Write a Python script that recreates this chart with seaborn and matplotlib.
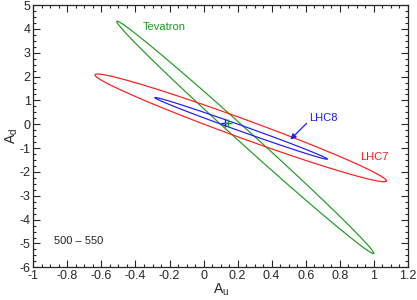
import numpy as np
import pandas as pd
import seaborn as sns
import matplotlib.pyplot as plt
from matplotlib.ticker import MultipleLocator

# ellipse data: centre, right-hand tip and half vertical chord at the centre
names = ["Tevatron", "LHC7", "LHC8"]
centre_x = [0.245, 0.218, 0.220]
centre_y = [-0.55, -0.15, -0.17]
tip_x = [1.00, 1.074, 0.726]
tip_y = [-5.41, -2.37, -1.457]
half_height = [0.39, 0.42, 0.13]
colors = {"Tevatron": "#1f991f", "LHC7": "#ff1a1a", "LHC8": "#1a1aff"}

# best-fit points
best_x = [0.126, 0.146]
best_y = [0.05, 0.06]
best_col = ["#1a1aff", "#1f991f"]

sns.set_style("ticks")
plt.rcParams["font.family"] = ["Liberation Sans", "DejaVu Sans"]
plt.rcParams["axes.unicode_minus"] = False

rows = []
t = np.linspace(0, 2 * np.pi, 400)
for i, n in enumerate(names):
    ax_ = tip_x[i] - centre_x[i]
    ay_ = tip_y[i] - centre_y[i]
    xs = centre_x[i] + ax_ * np.cos(t)
    ys = centre_y[i] + ay_ * np.cos(t) + half_height[i] * np.sin(t)
    rows.append(pd.DataFrame({"Au": xs, "Ad": ys, "set": n, "k": np.arange(len(t))}))
df = pd.concat(rows, ignore_index=True)

fig = plt.figure(figsize=(4.17, 3.0), dpi=100)
ax = fig.add_axes([0.08, 0.109, 0.898, 0.874])

for n in names:
    sns.lineplot(data=df[df["set"] == n], x="Au", y="Ad", sort=False, estimator=None,
                 color=colors[n], lw=0.85, ax=ax)

for x, y, c in zip(best_x, best_y, best_col):
    ax.plot(x, y, marker="+", color=c, ms=6, mew=1.0)

ax.text(-0.355, 4.09, "Tevatron", color=colors["Tevatron"], fontsize=8, va="center")
ax.text(0.92, -1.36, "LHC7", color=colors["LHC7"], fontsize=8, va="center")
ax.text(0.62, 0.26, "LHC8", color=colors["LHC8"], fontsize=8, va="center")
ax.annotate("", xy=(0.51, -0.64), xytext=(0.605, 0.04),
            arrowprops=dict(arrowstyle="-|>", color=colors["LHC8"], lw=0.9,
                            mutation_scale=8, shrinkA=0, shrinkB=0))
ax.text(-0.878, -4.88, "500 \u2013 550", fontsize=8, va="center")

ax.set_xlim(-1, 1.2)
ax.set_ylim(-6, 5)
ax.xaxis.set_major_locator(MultipleLocator(0.2))
ax.xaxis.set_minor_locator(MultipleLocator(0.05))
ax.yaxis.set_major_locator(MultipleLocator(1))
ax.yaxis.set_minor_locator(MultipleLocator(0.25))
ax.set_xticks(np.arange(-1, 1.21, 0.2))
ax.set_xticklabels(["-1", "-0.8", "-0.6", "-0.4", "-0.2", "0", "0.2", "0.4", "0.6", "0.8", "1", "1.2"])
ax.tick_params(which="both", direction="in", top=True, right=True, labelsize=9, width=0.8, pad=2)
ax.tick_params(which="major", length=5)
ax.tick_params(which="minor", length=2.5)
for s in ax.spines.values():
    s.set_linewidth(0.9)
ax.set_xlabel("A$_\\mathregular{u}$", fontsize=10, labelpad=0)
ax.set_ylabel("A$_\\mathregular{d}$", fontsize=10, labelpad=0)

fig.savefig("out.png", dpi=100)
